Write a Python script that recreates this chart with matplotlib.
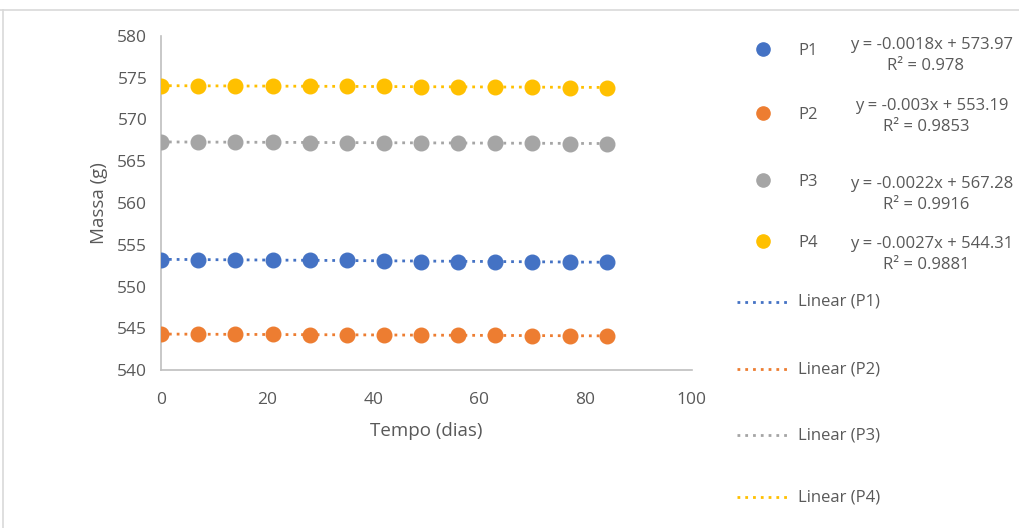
import numpy as np
import matplotlib.pyplot as plt
from matplotlib.lines import Line2D

plt.rcParams['font.family'] = ['Open Sans', 'DejaVu Sans']

# Data
dias = [0, 7, 14, 21, 28, 35, 42, 49, 56, 63, 70, 77, 84]
p1 = [553.2, 553.2, 553.2, 553.2, 553.2, 553.2, 553.1, 553.0, 553.0, 553.0, 553.0, 552.9, 552.9]
p2 = [544.3, 544.3, 544.3, 544.3, 544.2, 544.2, 544.2, 544.2, 544.2, 544.2, 544.1, 544.1, 544.1]
p3 = [567.3, 567.3, 567.3, 567.3, 567.2, 567.2, 567.2, 567.2, 567.2, 567.2, 567.2, 567.1, 567.1]
p4 = [574.0, 574.0, 574.0, 574.0, 574.0, 574.0, 574.0, 573.9, 573.9, 573.9, 573.9, 573.8, 573.8]
names = ['P1', 'P2', 'P3', 'P4']
eq_lines = ['y = -0.0018x + 573.97', 'y = -0.003x + 553.19',
            'y = -0.0022x + 567.28', 'y = -0.0027x + 544.31']
r2_lines = ['R² = 0.978', 'R² = 0.9853', 'R² = 0.9916', 'R² = 0.9881']
colors = ['#4472C4', '#ED7D31', '#A5A5A5', '#FFC000']
txt = '#595959'

fig = plt.figure(figsize=(10.2, 5.28), dpi=100)
ax = fig.add_axes([0.158, 0.299, 0.52, 0.633])

x = np.array(dias)
for ys, c in zip([p1, p2, p3, p4], colors):
    k, b = np.polyfit(x, ys, 1)
    ax.plot(x, k * x + b, color=c, lw=2, linestyle=(0, (1, 1.8)), zorder=2)
    ax.plot(x, ys, 'o', color=c, ms=10.5, zorder=3)

ax.set_xlim(0, 100)
ax.set_ylim(540, 580)
ax.set_xticks(range(0, 101, 20))
ax.set_yticks(range(540, 581, 5))
ax.tick_params(length=0, labelsize=12.5, labelcolor=txt)
ax.tick_params(axis='x', pad=16)
ax.tick_params(axis='y', pad=10)
for s in ['top', 'right']:
    ax.spines[s].set_visible(False)
for s in ['left', 'bottom']:
    ax.spines[s].set_color('#BFBFBF')
    ax.spines[s].set_linewidth(1.2)
ax.set_xlabel('Tempo (dias)', fontsize=13.5, color=txt, labelpad=10)
ax.set_ylabel('Massa (g)', fontsize=13.5, color=txt, labelpad=7)

# legend on the right
H, W = 528, 1020
marker_y = [49, 113, 180, 241]
eq_y = [45, 106, 184, 244]
for my, ey, n, eq, r2, c in zip(marker_y, eq_y, names, eq_lines, r2_lines, colors):
    fig.add_artist(Line2D([763 / W], [1 - my / H], marker='o', color=c, ms=9.5, lw=0))
    fig.text(798 / W, 1 - (my + 2) / H, n, fontsize=12, color=txt, va='center')
    fig.text(932 / W, 1 - ey / H, eq, fontsize=12, color=txt, ha='center', va='center')
    fig.text(926 / W, 1 - (ey + 21) / H, r2, fontsize=12, color=txt, ha='center', va='center')
lin_y = [302, 369, 435, 497]
for ly, n, c in zip(lin_y, names, colors):
    fig.add_artist(Line2D([737 / W, 790 / W], [1 - ly / H] * 2, color=c, lw=2,
                          linestyle=(0, (1, 1.8))))
    fig.text(798 / W, 1 - ly / H, 'Linear (%s)' % n, fontsize=12, color=txt, va='center')

# chart frame
fig.add_artist(Line2D([0, 1], [1 - 10 / H] * 2, color='#D9D9D9', lw=1.2))
fig.add_artist(Line2D([3 / W] * 2, [0, 1 - 10 / H], color='#D9D9D9', lw=1.2))

fig.savefig('out.png', dpi=100)
